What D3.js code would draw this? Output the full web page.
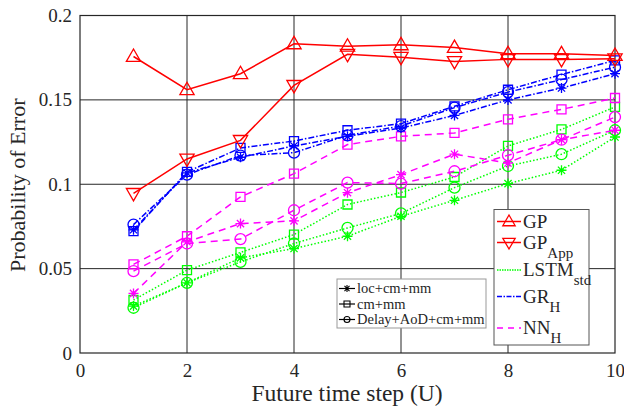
<!DOCTYPE html>
<html>
<head>
<meta charset="utf-8">
<script src="https://cdn.jsdelivr.net/npm/d3@7"></script>
<style>
  body { margin: 0; background: #fff; }
  svg text { font-family: "Liberation Serif", "DejaVu Serif", serif; fill: #262626; }
</style>
</head>
<body>
<div id="chart"></div>
<script>
// Data
const steps = [1, 2, 3, 4, 5, 6, 7, 8, 9, 10];
const gp = [0.1757, 0.156, 0.1655, 0.1832, 0.1818, 0.1826, 0.181, 0.1773, 0.1773, 0.1763];
const gpApp = [0.0946, 0.115, 0.126, 0.1586, 0.177, 0.1753, 0.1728, 0.174, 0.174, 0.1744];
const lstmStar = [0.0278, 0.0416, 0.0564, 0.0619, 0.0692, 0.081, 0.0905, 0.1004, 0.1083, 0.128];
const lstmSquare = [0.0314, 0.0491, 0.0596, 0.0702, 0.088, 0.0951, 0.1043, 0.1227, 0.1325, 0.1458];
const lstmCircle = [0.0268, 0.0416, 0.054, 0.0649, 0.0741, 0.0827, 0.098, 0.1108, 0.1178, 0.132];
const grStar = [0.073, 0.1067, 0.116, 0.1227, 0.1284, 0.1333, 0.1408, 0.150, 0.157, 0.1655];
const grSquare = [0.0722, 0.1073, 0.1215, 0.1256, 0.132, 0.1359, 0.1462, 0.156, 0.165, 0.1734];
const grCircle = [0.0761, 0.1057, 0.117, 0.1187, 0.129, 0.1345, 0.1454, 0.1546, 0.162, 0.1694];
const nnStar = [0.0353, 0.0659, 0.0767, 0.0783, 0.095, 0.1057, 0.1178, 0.1126, 0.1264, 0.132];
const nnSquare = [0.0525, 0.0692, 0.0925, 0.1063, 0.1235, 0.1284, 0.1304, 0.1385, 0.1444, 0.1511];
const nnCircle = [0.0485, 0.0649, 0.0675, 0.0846, 0.101, 0.1004, 0.1077, 0.1172, 0.1264, 0.1398];

const xTicks = [0, 2, 4, 6, 8, 10];
const yTicks = [0, 0.05, 0.1, 0.15, 0.2];
const yTickLabels = ["0", "0.05", "0.1", "0.15", "0.2"];

// Series styling (colour, dash, marker)
const series = [
  { values: lstmStar, color: "#00ff00", dash: "1.5,2", marker: "star" },
  { values: lstmSquare, color: "#00ff00", dash: "1.5,2", marker: "square" },
  { values: lstmCircle, color: "#00ff00", dash: "1.5,2", marker: "circle" },
  { values: nnStar, color: "#ff00ff", dash: "7,5", marker: "star" },
  { values: nnSquare, color: "#ff00ff", dash: "7,5", marker: "square" },
  { values: nnCircle, color: "#ff00ff", dash: "7,5", marker: "circle" },
  { values: grStar, color: "#0000ff", dash: "6,2,1.5,2", marker: "star" },
  { values: grSquare, color: "#0000ff", dash: "6,2,1.5,2", marker: "square" },
  { values: grCircle, color: "#0000ff", dash: "6,2,1.5,2", marker: "circle" },
  { values: gp, color: "#ff0000", dash: null, marker: "triUp" },
  { values: gpApp, color: "#ff0000", dash: null, marker: "triDown" }
];

const W = 624, H = 408;
const margin = { top: 15.5, right: 9, bottom: 55, left: 80 };
const width = W - margin.left - margin.right;
const height = H - margin.top - margin.bottom;

const svg = d3.select("#chart").append("svg")
  .attr("width", W)
  .attr("height", H);

const g = svg.append("g")
  .attr("transform", `translate(${margin.left},${margin.top})`);

const x = d3.scaleLinear().domain([0, 10]).range([0, width]);
const y = d3.scaleLinear().domain([0, 0.2]).range([height, 0]);

// grid
g.selectAll(".gx").data(xTicks.slice(1, -1)).enter().append("line")
  .attr("x1", d => x(d)).attr("x2", d => x(d))
  .attr("y1", 0).attr("y2", height)
  .attr("stroke", "#262626").attr("stroke-width", 1);
g.selectAll(".gy").data(yTicks.slice(1, -1)).enter().append("line")
  .attr("x1", 0).attr("x2", width)
  .attr("y1", d => y(d)).attr("y2", d => y(d))
  .attr("stroke", "#262626").attr("stroke-width", 1);

// axes
const xAxis = g.append("g")
  .attr("transform", `translate(0,${height})`)
  .call(d3.axisBottom(x).tickValues(xTicks).tickSize(0).tickPadding(11));
const yAxis = g.append("g")
  .call(d3.axisLeft(y).tickValues(yTicks).tickSize(0).tickPadding(8)
    .tickFormat((d, i) => yTickLabels[i]));
[xAxis, yAxis].forEach(a => {
  a.select(".domain").remove();
  a.selectAll("text").attr("font-size", 19).attr("font-family", "Liberation Serif").attr("fill", "#262626");
});

// plot box
g.append("rect")
  .attr("width", width).attr("height", height)
  .attr("fill", "none").attr("stroke", "#262626").attr("stroke-width", 1.2);

// markers
function markerPath(type, s) {
  if (type === "triUp") return `M0,${-s}L${s * 0.95},${s * 0.65}L${-s * 0.95},${s * 0.65}Z`;
  if (type === "triDown") return `M0,${s}L${s * 0.95},${-s * 0.65}L${-s * 0.95},${-s * 0.65}Z`;
  if (type === "square") return `M${-s},${-s}H${s}V${s}H${-s}Z`;
  if (type === "circle") return `M${s},0A${s},${s} 0 1,1 ${-s},0A${s},${s} 0 1,1 ${s},0Z`;
  // asterisk
  const d = s * 0.72;
  return `M0,${-s}V${s}M${-s},0H${s}M${-d},${-d}L${d},${d}M${-d},${d}L${d},${-d}`;
}
const markerSize = { triUp: 7.5, triDown: 7.5, square: 4.5, circle: 5.5, star: 5 };

const line = d3.line().x((d, i) => x(steps[i])).y(d => y(d));

series.forEach(s => {
  g.append("path")
    .datum(s.values)
    .attr("d", line)
    .attr("fill", "none")
    .attr("stroke", s.color)
    .attr("stroke-width", 1.5)
    .attr("stroke-dasharray", s.dash);
  g.selectAll(null).data(s.values).enter().append("path")
    .attr("transform", (d, i) => `translate(${x(steps[i])},${y(d)})`)
    .attr("d", markerPath(s.marker, markerSize[s.marker]))
    .attr("fill", "none")
    .attr("stroke", s.color)
    .attr("stroke-width", 1.3);
});

// axis labels
svg.append("text")
  .attr("x", margin.left + width / 2 - 0.5).attr("y", 401)
  .attr("text-anchor", "middle").attr("font-size", 23.5)
  .text("Future time step (U)");
svg.append("text")
  .attr("transform", `translate(25,${margin.top + height / 2 + 1}) rotate(-90)`)
  .attr("text-anchor", "middle").attr("font-size", 22)
  .text("Probability of Error");

// marker-type legend
const leg1 = svg.append("g").attr("transform", "translate(337,279)");
leg1.append("rect").attr("width", 149).attr("height", 49)
  .attr("fill", "#fff").attr("stroke", "#999").attr("stroke-width", 1);
const leg1Items = [
  { label: "loc+cm+mm", marker: "star" },
  { label: "cm+mm", marker: "square" },
  { label: "Delay+AoD+cm+mm", marker: "circle" }
];
leg1Items.forEach((d, i) => {
  const yy = 9.5 + i * 15.5;
  leg1.append("line").attr("x1", 2).attr("x2", 18).attr("y1", yy).attr("y2", yy)
    .attr("stroke", "#000").attr("stroke-width", 1.2);
  leg1.append("path").attr("transform", `translate(10,${yy})`)
    .attr("d", markerPath(d.marker, d.marker === "star" ? 3.5 : 3))
    .attr("fill", "none").attr("stroke", "#000").attr("stroke-width", 1.1);
  leg1.append("text").attr("x", 20).attr("y", yy + 4.5)
    .attr("font-size", 14.5).text(d.label);
});

// method legend
const leg2 = svg.append("g").attr("transform", "translate(494,209.5)");
leg2.append("rect").attr("width", 95).attr("height", 135.5)
  .attr("fill", "#fff").attr("stroke", "#555").attr("stroke-width", 1);
const leg2Items = [
  { main: "GP", sub: "", color: "#ff0000", dash: null, marker: "triUp", yy: 12 },
  { main: "GP", sub: "App", color: "#ff0000", dash: null, marker: "triDown", yy: 33 },
  { main: "LSTM", sub: "std", color: "#00ff00", dash: "1.5,1", marker: null, yy: 60.5 },
  { main: "GR", sub: "H", color: "#0000ff", dash: "5,1.5,1.5,1.5", marker: null, yy: 87 },
  { main: "NN", sub: "H", color: "#ff00ff", dash: "6,5", marker: null, yy: 118.5 }
];
leg2Items.forEach(d => {
  leg2.append("line").attr("x1", 3).attr("x2", 27).attr("y1", d.yy).attr("y2", d.yy)
    .attr("stroke", d.color).attr("stroke-width", 1.5).attr("stroke-dasharray", d.dash);
  if (d.marker) {
    leg2.append("path").attr("transform", `translate(15,${d.yy})`)
      .attr("d", markerPath(d.marker, 6.5))
      .attr("fill", "none").attr("stroke", d.color).attr("stroke-width", 1.3);
  }
  const t = leg2.append("text").attr("x", 29).attr("y", d.yy + 6).attr("font-size", 19);
  t.append("tspan").text(d.main);
  if (d.sub) t.append("tspan").attr("dy", 9).attr("font-size", 15).text(d.sub);
});
</script>
</body>
</html>
